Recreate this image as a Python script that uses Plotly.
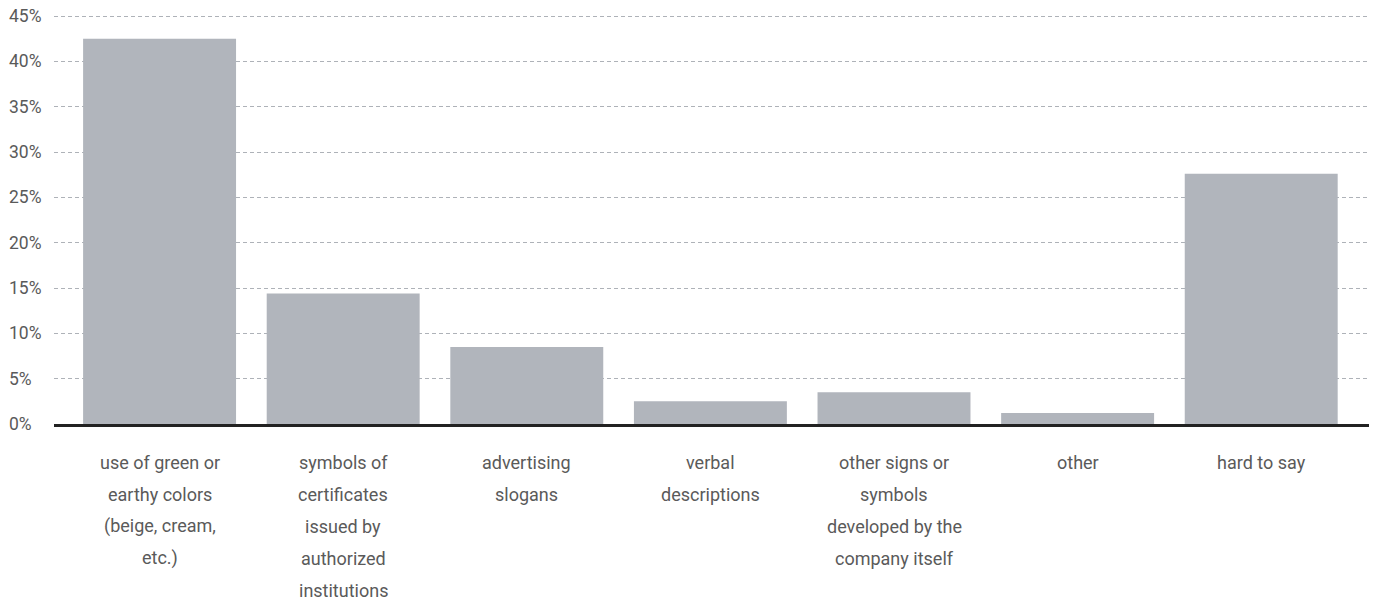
import plotly.graph_objects as go

# Survey answers: which cues suggest a product is eco-friendly
categories = [
    "use of green or<br>earthy colors<br>(beige, cream,<br>etc.)",
    "symbols of<br>certificates<br>issued by<br>authorized<br>institutions",
    "advertising<br>slogans",
    "verbal<br>descriptions",
    "other signs or<br>symbols<br>developed by the<br>company itself",
    "other",
    "hard to say",
]
shares = [42.5, 14.4, 8.5, 2.5, 3.5, 1.2, 27.6]
y_ticks = [0, 5, 10, 15, 20, 25, 30, 35, 40, 45]
y_tick_labels = [f"{v}%" for v in y_ticks]

FONT = "Roboto"
TEXT_COLOR = "#5a5a5a"
BAR_COLOR = "#b1b5bc"

x_pos = list(range(len(categories)))

fig = go.Figure(
    go.Bar(
        x=x_pos,
        y=shares,
        marker=dict(color=BAR_COLOR, line=dict(width=0)),
        hoverinfo="skip",
    )
)

annotations = []
# y tick labels, left aligned in the margin
for v, t in zip(y_ticks, y_tick_labels):
    annotations.append(dict(
        x=0, xref="paper", xshift=-47, xanchor="left",
        y=v, yref="y", yanchor="middle",
        text=t, showarrow=False,
        font=dict(family=FONT, size=17.5, color=TEXT_COLOR),
    ))
# category labels, one annotation per line for generous line spacing
for i, cat in enumerate(categories):
    for j, line in enumerate(cat.split("<br>")):
        annotations.append(dict(
            x=i, xref="x", xanchor="center",
            y=0, yref="paper", yanchor="middle",
            yshift=-38 - 32 * j,
            text=line, showarrow=False,
            font=dict(family=FONT, size=18, color=TEXT_COLOR),
        ))

fig.update_layout(
    width=1375,
    height=601,
    margin=dict(l=54, r=6, t=15, b=177),
    paper_bgcolor="white",
    plot_bgcolor="white",
    bargap=0.167,
    showlegend=False,
    font=dict(family=FONT, size=18, color=TEXT_COLOR),
    annotations=annotations,
    xaxis=dict(
        range=[-0.575, 6.587],
        showticklabels=False,
        showgrid=False,
        zeroline=False,
        showline=True,
        linecolor="#222222",
        linewidth=2.5,
        ticks="",
        fixedrange=True,
    ),
    yaxis=dict(
        range=[0, 45.12],
        tickvals=y_ticks,
        showticklabels=False,
        showgrid=True,
        gridcolor="#aeb2b8",
        gridwidth=1,
        griddash="4px,3px",
        zeroline=False,
        showline=False,
        ticks="",
        fixedrange=True,
    ),
)

fig.write_html("out.html")
